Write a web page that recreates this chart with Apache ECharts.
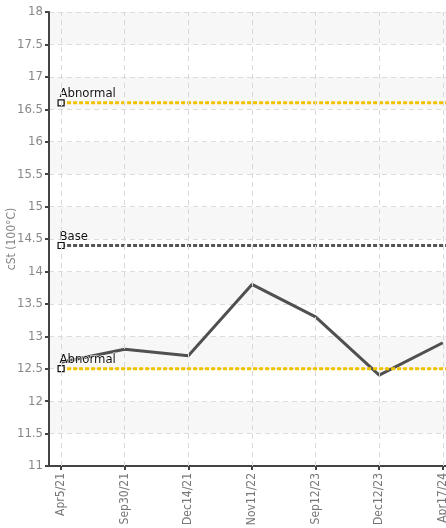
<!DOCTYPE html>
<html>
<head>
<meta charset="utf-8">
<script src="https://cdn.jsdelivr.net/npm/echarts@6/dist/echarts.min.js"></script>
<style>html,body{margin:0;padding:0;background:#fff}#c{width:446px;height:528px}</style>
</head>
<body>
<div id="c"></div>
<script>
// Sample dates and viscosity readings
const categories = ['Apr5/21', 'Sep30/21', 'Dec14/21', 'Nov11/22', 'Sep12/23', 'Dec12/23', 'Apr17/24'];
const viscosity = [12.6, 12.8, 12.7, 13.8, 13.3, 12.4, 12.9];
// Limit lines
const limitNames = ['Abnormal', 'Base', 'Abnormal'];
const limitValues = [16.6, 14.4, 12.5];
const limitColors = ['#f2c200', '#555555', '#f2c200'];

const FONT = '"Liberation Sans Narrow", "DejaVu Sans Condensed", sans-serif';
const X_MIN = -0.19, X_MAX = 6.05;
const idx = categories.map((_, i) => i);

const chart = echarts.init(document.getElementById('c'));

const limitSeries = limitValues.map((v, k) => ({
  type: 'line',
  z: 3,
  silent: true,
  lineStyle: { color: limitColors[k], width: 3, type: [4, 2] },
  data: [
    {
      value: [0, v],
      symbol: 'rect',
      symbolSize: 6,
      itemStyle: { color: '#fff', borderColor: '#111', borderWidth: 1.2 },
      label: {
        show: true, formatter: limitNames[k], position: [2, -12],
        color: '#111', fontSize: 13, fontFamily: FONT, align: 'left',
        textBorderColor: '#fff', textBorderWidth: 1
      }
    },
    { value: [X_MAX, v], symbol: 'none' }
  ],
  animation: false
}));

chart.setOption({
  animation: false,
  grid: { left: 49, right: 0, top: 12, bottom: 62, outerBoundsMode: 'none', containLabel: false },
  xAxis: {
    type: 'value',
    min: X_MIN,
    max: X_MAX,
    axisLine: { show: true, onZero: false, lineStyle: { color: '#444', width: 2 } },
    axisTick: { show: true, customValues: idx, length: 4, inside: false, lineStyle: { color: '#444', width: 2 } },
    axisLabel: {
      customValues: idx,
      rotate: 90,
      formatter: v => categories[Math.round(v)],
      color: '#777', fontSize: 12, fontFamily: FONT, margin: 7
    },
    splitLine: { show: false }
  },
  yAxis: {
    type: 'value',
    min: 11, max: 18, interval: 0.5,
    name: 'cSt (100°C)',
    nameLocation: 'middle',
    nameGap: 31,
    nameMoveOverlap: false,
    nameTextStyle: { color: '#888', fontSize: 12, fontFamily: FONT },
    axisLine: { show: true, onZero: false, lineStyle: { color: '#444', width: 2 } },
    axisTick: { show: true, length: 4, lineStyle: { color: '#444', width: 2 } },
    axisLabel: { color: '#888', fontSize: 13, fontFamily: FONT, margin: 6 },
    splitLine: { show: true, lineStyle: { color: '#dcdcdc', type: [5, 4], width: 1 } },
    splitArea: { show: true, areaStyle: { color: ['#ffffff', '#f7f7f7'] } }
  },
  series: [
    {
      type: 'line',
      z: 1,
      silent: true,
      symbol: 'none',
      lineStyle: { width: 0 },
      data: [],
      markLine: {
        silent: true,
        symbol: 'none',
        label: { show: false },
        lineStyle: { color: '#d8d8d8', type: [5, 4], width: 1 },
        data: idx.map(i => ({ xAxis: i }))
      }
    },
    {
      type: 'line',
      z: 2,
      silent: true,
      symbol: 'none',
      lineStyle: { color: '#505050', width: 3 },
      data: viscosity.map((v, i) => [i, v])
    },
    ...limitSeries
  ]
});
</script>
</body>
</html>
